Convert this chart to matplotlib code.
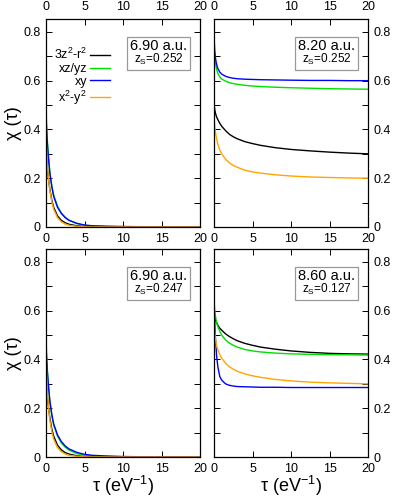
import matplotlib
matplotlib.use('Agg')
import matplotlib.pyplot as plt
from matplotlib.offsetbox import AnchoredOffsetbox, TextArea, VPacker
from matplotlib.ticker import MultipleLocator

plt.rcParams['font.family'] = ['Liberation Sans', 'DejaVu Sans']
plt.rcParams['mathtext.fontset'] = 'custom'
plt.rcParams['mathtext.rm'] = 'Liberation Sans'
plt.rcParams['mathtext.it'] = 'Liberation Sans:italic'

# tau grid the curves were read at (eV^-1)
tau = [0, 0.1, 0.2, 0.35, 0.5, 0.75, 1, 1.5, 2, 2.5, 3, 4, 5, 6, 8, 10, 12.5, 15, 17.5, 20]

orbitals = ['3z$^2$-r$^2$', 'xz/yz', 'xy', 'x$^2$-y$^2$']
colors = ['black', '#00e000', '#0000ff', '#ffa500']

# panel labels
rs_labels = ['6.90 a.u.', '8.20 a.u.', '6.90 a.u.', '8.60 a.u.']
zs_labels = ['0.252', '0.252', '0.247', '0.127']

# chi(tau) per panel, order: 3z2-r2, xz/yz, xy, x2-y2
chi_a = [
    [0.33, 0.27, 0.23, 0.19, 0.155, 0.11, 0.08, 0.045, 0.027, 0.017, 0.011, 0.005, 0.002, 0.001, 0.0, 0.0, 0.0, 0.0, 0.0, 0.0],
    [0.49, 0.40, 0.34, 0.28, 0.225, 0.17, 0.13, 0.085, 0.057, 0.04, 0.028, 0.014, 0.007, 0.004, 0.002, 0.001, 0.0005, 0.0, 0.0, 0.0],
    [0.45, 0.38, 0.33, 0.27, 0.22, 0.165, 0.125, 0.08, 0.055, 0.038, 0.027, 0.015, 0.008, 0.005, 0.003, 0.002, 0.001, 0.001, 0.0005, 0.0005],
    [0.38, 0.29, 0.24, 0.19, 0.15, 0.105, 0.072, 0.038, 0.021, 0.012, 0.007, 0.003, 0.001, 0.0, 0.0, 0.0, 0.0, 0.0, 0.0, 0.0],
]
chi_b = [
    [0.505, 0.48, 0.465, 0.45, 0.44, 0.425, 0.413, 0.395, 0.38, 0.37, 0.362, 0.35, 0.342, 0.335, 0.325, 0.318, 0.312, 0.307, 0.303, 0.30],
    [0.74, 0.70, 0.67, 0.645, 0.63, 0.615, 0.607, 0.598, 0.592, 0.588, 0.585, 0.581, 0.578, 0.576, 0.573, 0.571, 0.569, 0.567, 0.566, 0.565],
    [0.78, 0.72, 0.69, 0.665, 0.65, 0.635, 0.627, 0.618, 0.613, 0.61, 0.608, 0.606, 0.605, 0.604, 0.603, 0.602, 0.601, 0.601, 0.600, 0.600],
    [0.45, 0.41, 0.385, 0.36, 0.34, 0.315, 0.30, 0.278, 0.263, 0.252, 0.245, 0.233, 0.226, 0.221, 0.214, 0.209, 0.205, 0.203, 0.201, 0.20],
]
chi_c = [
    [0.35, 0.28, 0.24, 0.195, 0.16, 0.115, 0.085, 0.048, 0.029, 0.018, 0.012, 0.005, 0.002, 0.001, 0.0, 0.0, 0.0, 0.0, 0.0, 0.0],
    [0.49, 0.40, 0.34, 0.28, 0.225, 0.17, 0.13, 0.085, 0.057, 0.04, 0.028, 0.014, 0.007, 0.004, 0.002, 0.001, 0.0005, 0.0, 0.0, 0.0],
    [0.45, 0.39, 0.34, 0.28, 0.23, 0.175, 0.135, 0.09, 0.063, 0.045, 0.033, 0.019, 0.011, 0.007, 0.004, 0.002, 0.001, 0.001, 0.0005, 0.0005],
    [0.42, 0.31, 0.25, 0.195, 0.15, 0.105, 0.072, 0.038, 0.021, 0.012, 0.007, 0.003, 0.001, 0.0, 0.0, 0.0, 0.0, 0.0, 0.0, 0.0],
]
chi_d = [
    [0.60, 0.575, 0.56, 0.55, 0.54, 0.528, 0.52, 0.505, 0.494, 0.485, 0.477, 0.466, 0.458, 0.451, 0.442, 0.435, 0.429, 0.425, 0.423, 0.422],
    [0.64, 0.60, 0.575, 0.55, 0.535, 0.515, 0.50, 0.48, 0.467, 0.458, 0.451, 0.441, 0.435, 0.431, 0.426, 0.423, 0.421, 0.42, 0.419, 0.418],
    [0.63, 0.55, 0.48, 0.41, 0.37, 0.33, 0.315, 0.30, 0.294, 0.291, 0.289, 0.288, 0.287, 0.286, 0.286, 0.285, 0.285, 0.285, 0.285, 0.285],
    [0.56, 0.51, 0.48, 0.455, 0.44, 0.42, 0.405, 0.385, 0.37, 0.36, 0.352, 0.341, 0.333, 0.327, 0.318, 0.312, 0.307, 0.304, 0.302, 0.30],
]
panels = [chi_a, chi_b, chi_c, chi_d]

fig = plt.figure(figsize=(3.95, 4.98), dpi=100)

# axes rectangles in figure fractions
W, H = 0.390, 0.4177
rects = [(0.1165, 0.5442, W, H), (0.5418, 0.5442, W, H),
         (0.1165, 0.0823, W, H), (0.5418, 0.0823, W, H)]

for i, rect in enumerate(rects):
    ax = fig.add_axes(rect)
    for chi, name, c in zip(panels[i], orbitals, colors):
        ax.plot(tau, chi, color=c, lw=1.0, label=name)
    ax.set_xlim(0, 20)
    ax.set_ylim(0, 0.853)
    ax.xaxis.set_major_locator(MultipleLocator(5))
    ax.yaxis.set_major_locator(MultipleLocator(0.2))
    ax.yaxis.set_minor_locator(MultipleLocator(0.1))
    ax.yaxis.set_major_formatter(plt.FuncFormatter(lambda v, p: '0' if v == 0 else '%.1f' % v))
    top_row = i < 2
    left_col = i % 2 == 0
    ax.tick_params(which='both', direction='in', top=True, right=True,
                   labelsize=9, width=0.7, length=4)
    ax.tick_params(axis='x', pad=4.5)
    ax.tick_params(axis='y', pad=4)
    ax.tick_params(labeltop=top_row, labelbottom=True,
                   labelleft=left_col, labelright=not left_col)
    for s in ax.spines.values():
        s.set_linewidth(0.9)

    if left_col:
        ax.set_ylabel('χ (τ)', fontsize=13)
        ax.yaxis.set_label_coords(-0.155, 0.5)
    if not top_row:
        ax.set_xlabel('τ (eV$^{-1}$)', fontsize=13, labelpad=-1)

    if i == 0:
        ax.legend(loc='upper left', bbox_to_anchor=(0.0, 0.9), frameon=False,
                  markerfirst=False, fontsize=9, handlelength=1.6,
                  handletextpad=0.25, labelspacing=0.05, borderaxespad=0.2)

    big = TextArea(rs_labels[i], textprops=dict(fontsize=10.5))
    small = TextArea('z$_\\mathrm{S}$=' + zs_labels[i], textprops=dict(fontsize=8.5))
    pack = VPacker(children=[big, small], align='center', pad=0, sep=-1)
    box = AnchoredOffsetbox(loc='upper right', child=pack, pad=0.2, borderpad=0,
                            frameon=True, bbox_to_anchor=(0.935, 0.915),
                            bbox_transform=ax.transAxes)
    box.patch.set_edgecolor('#999999')
    box.patch.set_linewidth(0.9)
    box.patch.set_boxstyle('square', pad=0)
    ax.add_artist(box)

fig.savefig('out.png', dpi=100)
